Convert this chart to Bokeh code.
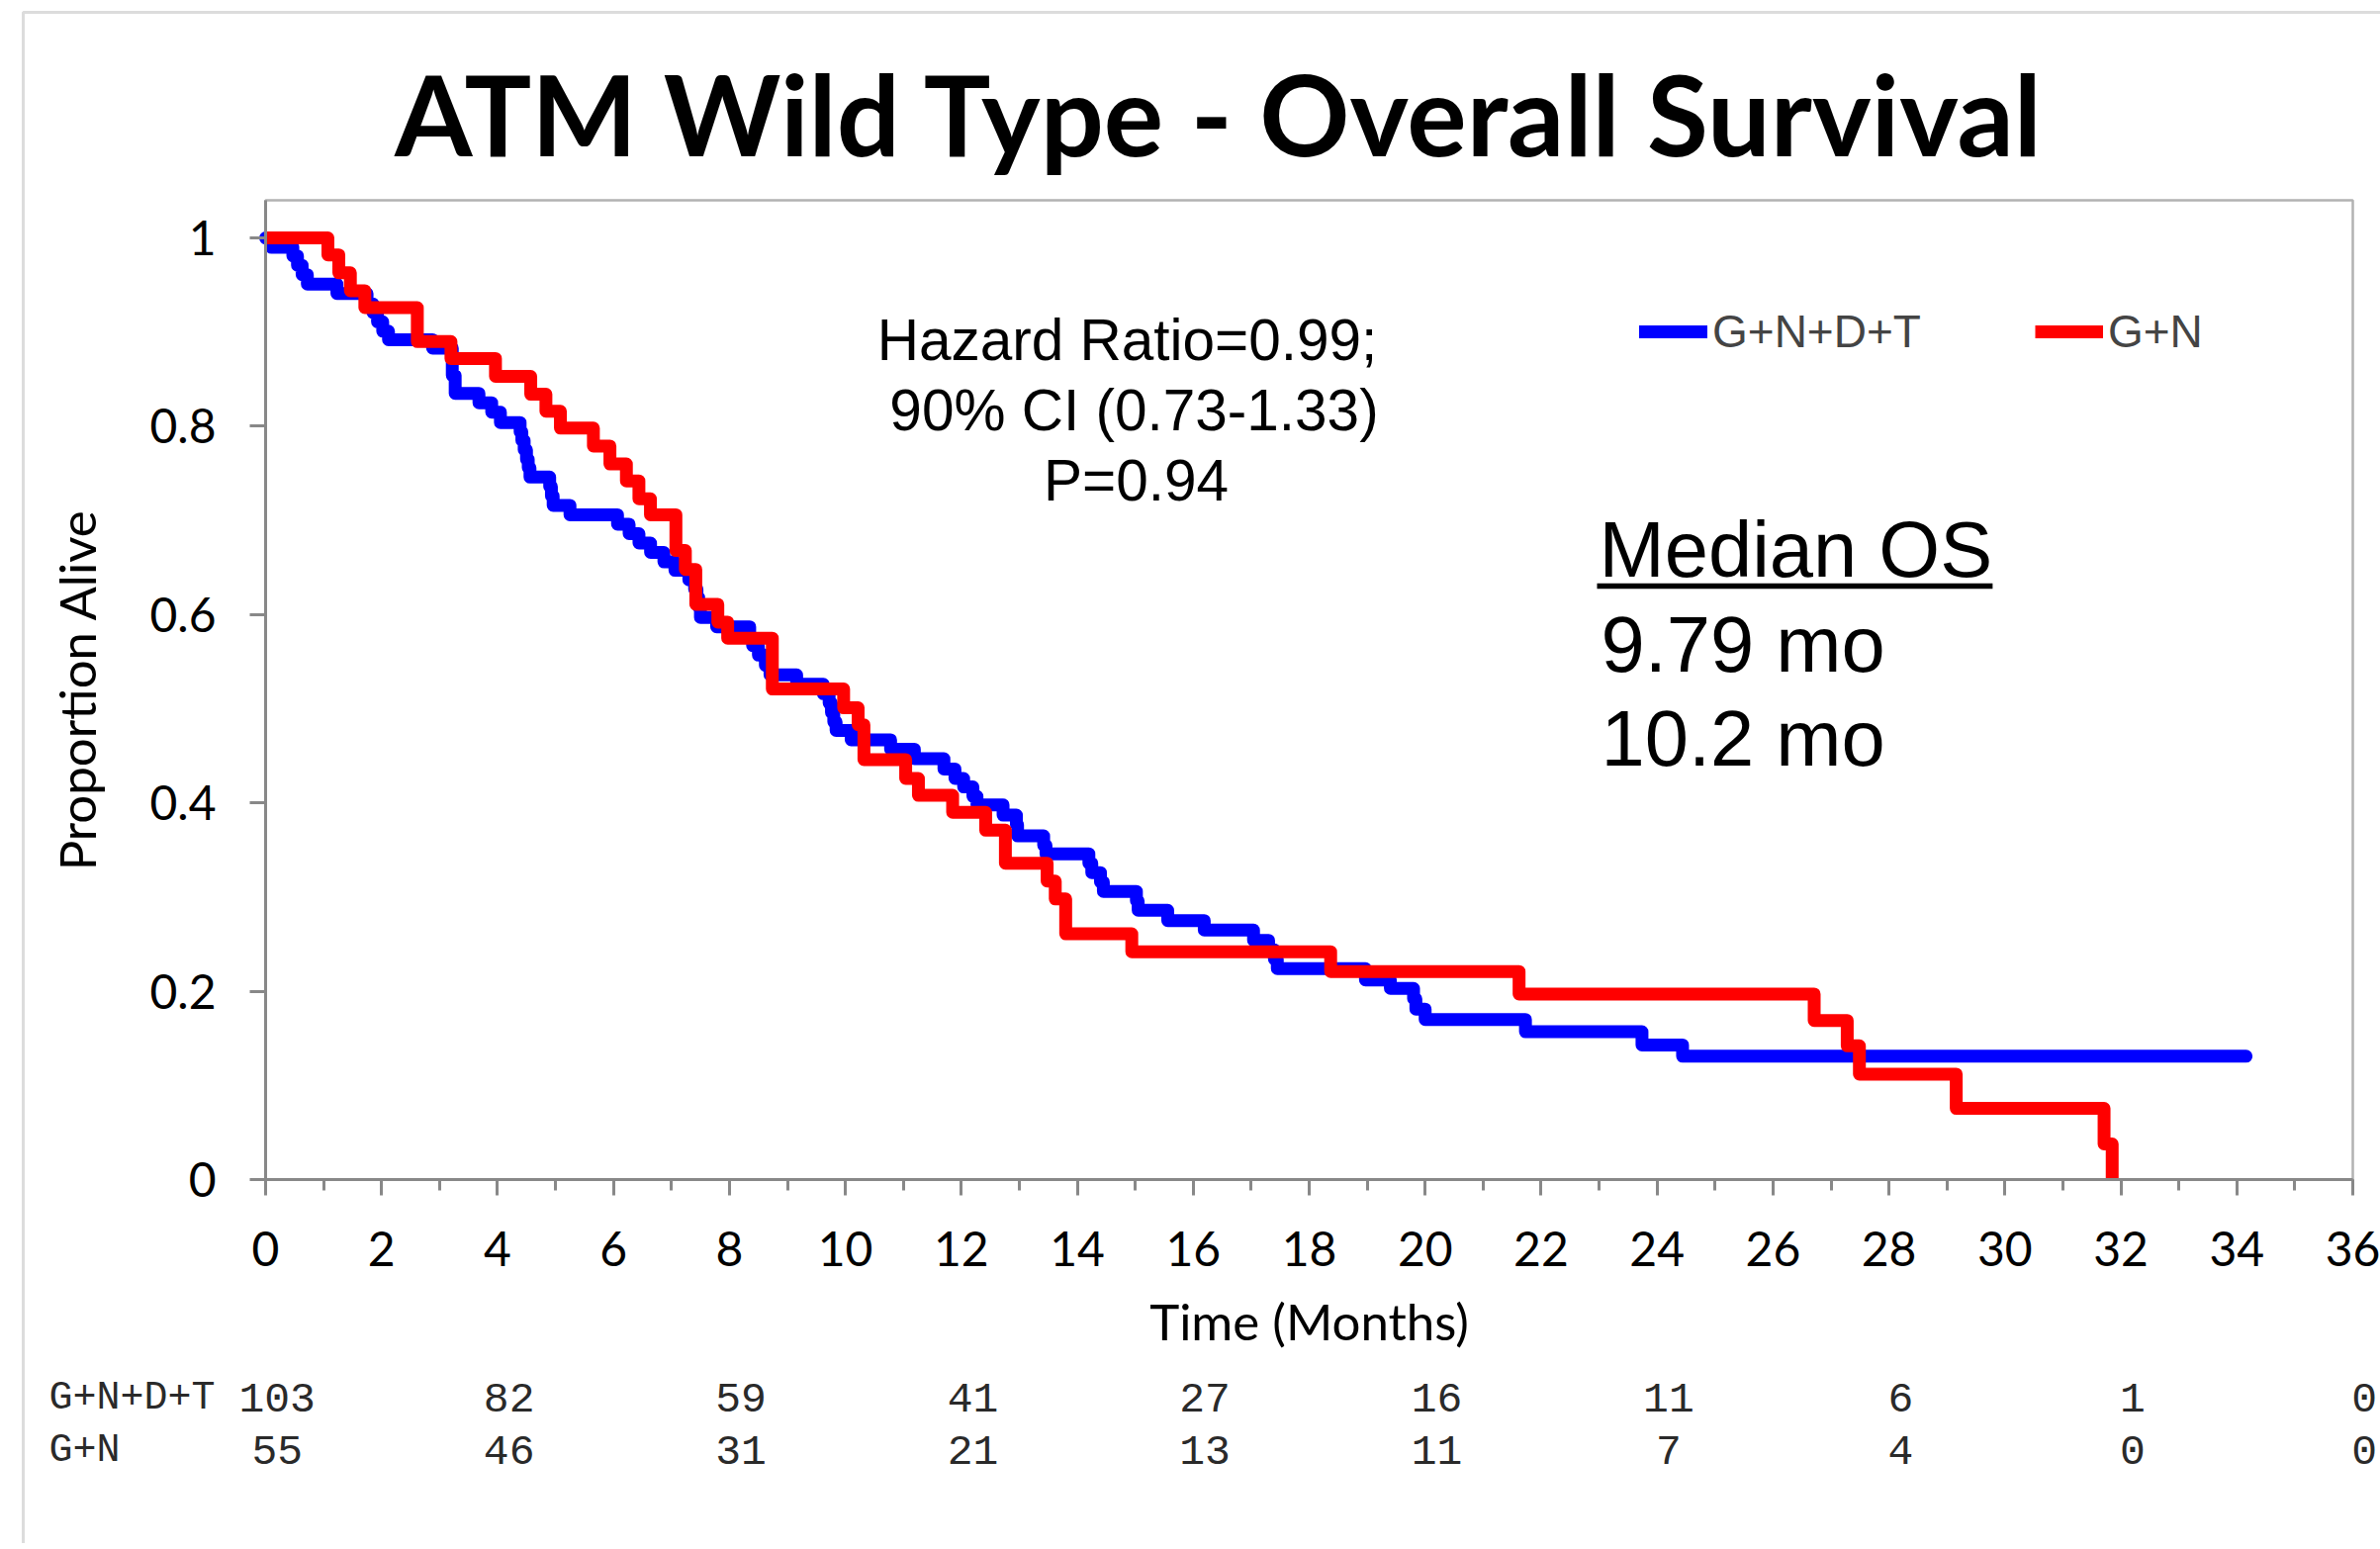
from bokeh.plotting import figure
from bokeh.models import (Range1d, FixedTicker, LinearAxis, Label, Legend, LegendItem,
                          CustomJSTickFormatter, BoxAnnotation)
from bokeh.embed import file_html
from bokeh.resources import INLINE

# ---------------- data ----------------
gndt_months = [0, 0.10, 0.47, 0.55, 0.63, 0.72, 1.23, 1.75, 1.85, 1.93, 2.02, 2.12, 2.88, 3.22, 3.27,
               3.68, 3.90, 4.05, 4.39, 4.42, 4.46, 4.50, 4.53, 4.56, 4.90, 4.93, 4.96, 5.25, 6.07,
               6.27, 6.44, 6.64, 6.87, 7.06, 7.30, 7.40, 7.44, 7.47, 7.50, 7.78, 8.35, 8.40, 8.50,
               8.62, 8.70, 9.16, 9.62, 9.72, 9.76, 9.80, 9.84, 10.10, 10.78, 11.19, 11.70, 11.89,
               12.04, 12.20, 12.27, 12.72, 12.95, 12.97, 13.42, 13.46, 14.20, 14.25, 14.40, 14.45,
               15.02, 15.05, 15.56, 16.19, 17.04, 17.30, 17.40, 17.45, 18.97, 19.40, 19.80, 19.84,
               20.00, 21.73, 23.74, 24.44, 34.16]
gndt_surv = [1.0, 0.990, 0.981, 0.971, 0.961, 0.951, 0.941, 0.930, 0.921, 0.911, 0.901, 0.892, 0.883,
             0.854, 0.835, 0.825, 0.815, 0.804, 0.794, 0.785, 0.775, 0.765, 0.756, 0.746, 0.736,
             0.726, 0.716, 0.706, 0.696, 0.686, 0.676, 0.666, 0.656, 0.647, 0.637, 0.627, 0.618,
             0.608, 0.597, 0.587, 0.576, 0.567, 0.557, 0.546, 0.536, 0.526, 0.516, 0.506, 0.496,
             0.486, 0.477, 0.467, 0.457, 0.447, 0.436, 0.426, 0.417, 0.407, 0.398, 0.387, 0.377,
             0.365, 0.355, 0.346, 0.336, 0.326, 0.316, 0.306, 0.296, 0.286, 0.275, 0.265, 0.254,
             0.244, 0.234, 0.224, 0.212, 0.203, 0.192, 0.181, 0.170, 0.157, 0.143, 0.131, 0.131]

gn_months = [0, 1.075, 1.263, 1.462, 1.712, 2.617, 3.197, 3.965, 4.573, 4.835, 5.085, 5.654, 5.939,
             6.223, 6.439, 6.638, 7.077, 7.24, 7.42, 7.80, 7.97, 8.74, 9.97, 10.22, 10.32, 11.04,
             11.26, 11.85, 12.42, 12.76, 13.48, 13.62, 13.80, 14.94, 18.37, 21.62, 26.71, 27.28,
             27.49, 29.16, 31.71, 31.85]
gn_surv = [1.0, 0.982, 0.963, 0.944, 0.926, 0.890, 0.872, 0.853, 0.834, 0.816, 0.798, 0.779, 0.760,
           0.742, 0.723, 0.706, 0.668, 0.648, 0.611, 0.592, 0.575, 0.521, 0.501, 0.483, 0.446,
           0.426, 0.408, 0.390, 0.371, 0.336, 0.317, 0.298, 0.261, 0.242, 0.221, 0.197, 0.169,
           0.142, 0.112, 0.0756, 0.0378, 0.0]

series_names = ["G+N+D+T", "G+N"]
risk_months = [0, 4, 8, 12, 16, 20, 24, 28, 32, 36]
risk_gndt = [103, 82, 59, 41, 27, 16, 11, 6, 1, 0]
risk_gn = [55, 46, 31, 21, 13, 11, 7, 4, 0, 0]
x_ticks = list(range(0, 37, 2))
x_minor = list(range(0, 37))
y_ticks = [0, 0.2, 0.4, 0.6, 0.8, 1.0]
title_text = "ATM Wild Type - Overall Survival"
stats_lines = ["Hazard Ratio=0.99;", "90% CI (0.73-1.33)", "P=0.94"]
median_head = "Median OS"
median_lines = ["9.79 mo", "10.2 mo"]

# ---------------- layout (page pixels) ----------------
W, H = 2406, 1560
X0, X1, Y0, Y1 = 0, 36, 0, 1.04
PL, PR, PT, PB = 268, 2378, 202, 1192          # plot-area edges on the page
PXM = (PR - PL) / (X1 - X0)
PYS = (PB - PT) / (Y1 - Y0)
BASE_FIX = 0.345                               # label baseline correction (em)


def dx(px):
    return X0 + (px - PL) / PXM


def dy(py):
    return Y0 + (PB - py) / PYS


def baseline(py, fs):
    return dy(py - BASE_FIX * fs)


p = figure(width=W, height=H, output_backend="svg", toolbar_location=None,
           x_range=Range1d(dx(0), dx(W)), y_range=Range1d(dy(H), dy(0)),
           min_border=0, min_border_left=0, min_border_right=0, min_border_top=0,
           min_border_bottom=0, x_axis_type=None, y_axis_type=None)
p.outline_line_color = None
p.grid.visible = False
p.background_fill_color = "white"
p.border_fill_color = "white"

GRAY = "#888888"
TICKFONT = "Lato"

# outer grey slide frame
p.add_layout(BoxAnnotation(left=dx(23), right=dx(W + 200), top=dy(12), bottom=dy(H + 200),
                           fill_alpha=0, line_color="#8c8c8c", line_width=3, level="underlay"))
# black plot-area border (left/bottom hidden under the grey axes)
p.add_layout(BoxAnnotation(left=X0, right=X1, bottom=Y0, top=Y1, fill_alpha=0,
                           line_color="black", line_width=2.5, level="underlay"))

xaxis = LinearAxis(ticker=FixedTicker(ticks=x_ticks, minor_ticks=x_minor),
                   axis_label="Time (Months)", fixed_location=Y0, bounds=(X0, X1))
yaxis = LinearAxis(ticker=FixedTicker(ticks=y_ticks),
                   formatter=CustomJSTickFormatter(code="return (Math.round(tick*10)/10).toString();"),
                   axis_label="Proportion Alive", fixed_location=X0, bounds=(Y0, Y1))
for ax in (xaxis, yaxis):
    ax.axis_line_color = GRAY
    ax.axis_line_width = 3
    ax.major_tick_line_color = GRAY
    ax.major_tick_line_width = 3
    ax.minor_tick_line_color = GRAY
    ax.minor_tick_line_width = 3
    ax.major_tick_in = 0
    ax.minor_tick_in = 0
    ax.major_tick_out = 16
    ax.minor_tick_out = 11
    ax.major_label_text_font = TICKFONT
    ax.major_label_text_font_size = "48px"
    ax.major_label_text_color = "black"
    ax.axis_label_text_font = TICKFONT
    ax.axis_label_text_font_size = "51px"
    ax.axis_label_text_font_style = "normal"
    ax.axis_label_text_color = "black"
xaxis.major_label_standoff = 36
xaxis.axis_label_standoff = 22
yaxis.major_label_standoff = 34
yaxis.axis_label_standoff = 40
p.add_layout(xaxis, "below")
p.add_layout(yaxis, "left")

r_blue = p.step(gndt_months, gndt_surv, mode="after", line_color="#0000FF", line_width=13,
                line_join="round", line_cap="round")
r_red = p.step(gn_months, gn_surv, mode="after", line_color="#FF0000", line_width=13,
               line_join="round", line_cap="butt")

legend = Legend(items=[LegendItem(label=series_names[0], renderers=[r_blue]),
                       LegendItem(label=series_names[1], renderers=[r_red])],
                orientation="horizontal", location=(1657, H - 362), glyph_width=69,
                glyph_height=20, label_standoff=5, spacing=115, padding=0, margin=0,
                border_line_color=None, background_fill_alpha=0,
                label_text_font="Liberation Sans", label_text_font_size="46px")
p.add_layout(legend)

# title
p.add_layout(Label(x=dx(1233), y=baseline(152, 113), text=title_text, text_align="center",
                   text_baseline="alphabetic", text_font=TICKFONT, text_font_style="bold",
                   text_font_size="113px", text_color="black"))

# hazard ratio block
stats_cx = [1139, 1146, 1148]
for i, line in enumerate(stats_lines):
    p.add_layout(Label(x=dx(stats_cx[i]), y=baseline(363 + 71 * i, 58.5), text=line,
                       text_align="center", text_baseline="alphabetic",
                       text_font="Liberation Sans", text_font_size="58.5px", text_color="black"))

# median OS block
p.add_layout(Label(x=dx(1616), y=baseline(582, 79.5), text=median_head, text_align="left",
                   text_baseline="alphabetic", text_font="Liberation Sans",
                   text_font_size="79.5px", text_color="black"))
ul_len = 5.03 * 79.5 / PXM
p.segment(x0=[dx(1614)], y0=[dy(592)], x1=[dx(1614) + ul_len], y1=[dy(592)],
          line_color="black", line_width=5.5)
for i, line in enumerate(median_lines):
    p.add_layout(Label(x=dx(1618), y=baseline(678 + 95 * i, 79.5), text=line, text_align="left",
                       text_baseline="alphabetic", text_font="Liberation Sans",
                       text_font_size="79.5px", text_color="black"))

# numbers at risk
for row, (name, counts) in enumerate(zip(series_names, [risk_gndt, risk_gn])):
    yy = baseline(1427 + 53 * row, 42)
    p.add_layout(Label(x=dx(49), y=yy, text=name, text_align="left", text_baseline="alphabetic",
                       text_font="Liberation Mono", text_font_size="40px", text_color="#2a2a2a"))
    for m, c in zip(risk_months, counts):
        p.add_layout(Label(x=m + 0.2, y=yy, text=str(c), text_align="center",
                           text_baseline="alphabetic", text_font="Liberation Mono",
                           text_font_size="43px", text_color="#2a2a2a"))

open("out.html", "w").write(file_html(p, INLINE))
